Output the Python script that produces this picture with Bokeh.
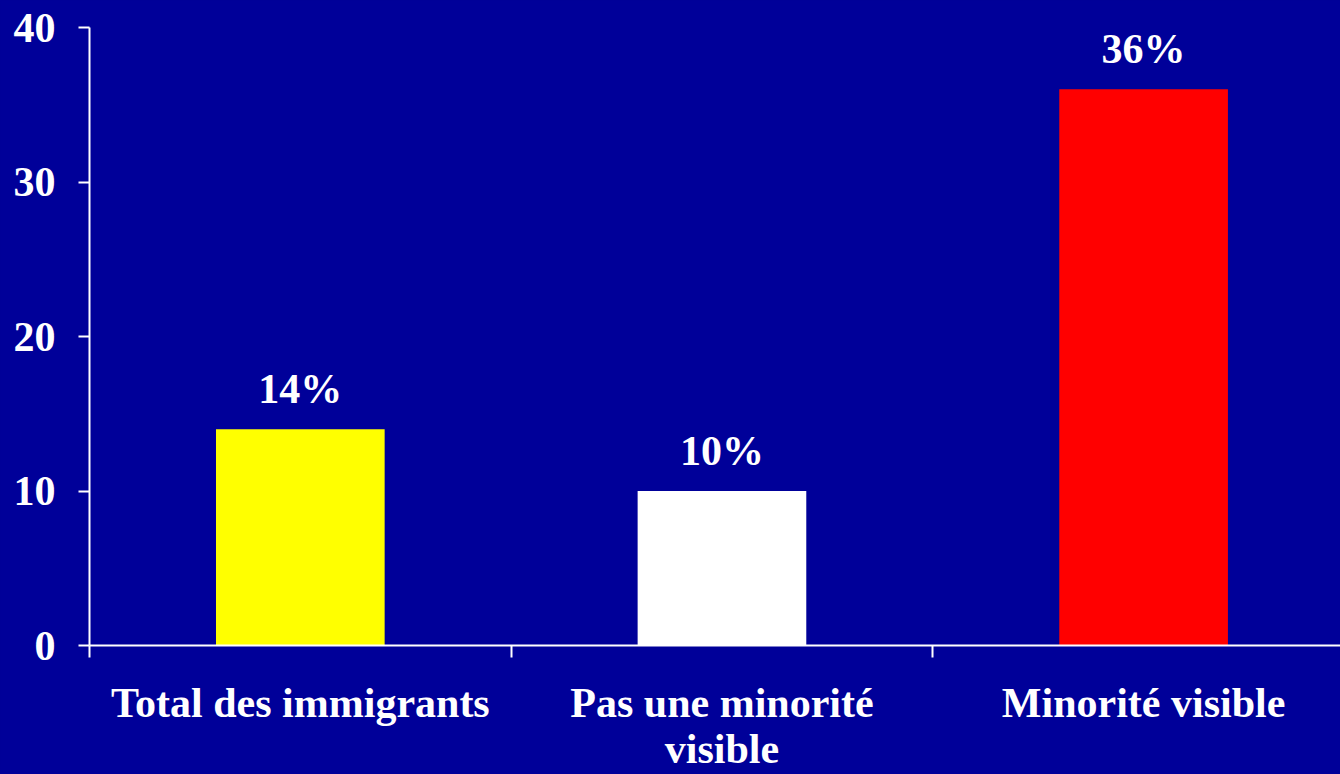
from bokeh.plotting import figure
from bokeh.models import Range1d, FixedTicker, ColumnDataSource
from bokeh.core.properties import value
from bokeh.embed import file_html
from bokeh.resources import INLINE

# ---- data ----
categories = ["Total des immigrants", "Pas une minorité\nvisible", "Minorité visible"]
values = [14, 10, 36]
bar_labels = ["14%", "10%", "36%"]
bar_colors = ["#FFFF00", "#FFFFFF", "#FF0000"]
y_ticks = [0, 10, 20, 30, 40]

BG = "#000099"
FONT = "Liberation Serif"
FS = "42px"

xs = [i + 0.5 for i in range(len(categories))]
src = ColumnDataSource(dict(x=xs, top=values, color=bar_colors, label=bar_labels))

p = figure(width=1340, height=774, output_backend="svg", toolbar_location=None,
           x_range=Range1d(0, 2.967), y_range=Range1d(0, 40),
           min_border_left=89, min_border_right=0, min_border_top=27, min_border_bottom=129)

p.background_fill_color = BG
p.border_fill_color = BG
p.outline_line_color = None
p.xgrid.visible = False
p.ygrid.visible = False

p.vbar(x="x", top="top", bottom=0, width=0.4, fill_color="color", line_color=None, source=src)
p.text(x="x", y="top", text="label", source=src, y_offset=-40,
       text_align="center", text_baseline="alphabetic", text_color="white",
       text_font=value(FONT), text_font_style="bold", text_font_size=FS)

# y axis
ya = p.yaxis[0]
ya.ticker = FixedTicker(ticks=y_ticks, minor_ticks=[])
ya.axis_line_color = "white"
ya.axis_line_width = 2
ya.major_tick_line_color = "white"
ya.major_tick_line_width = 2
ya.major_tick_out = 11
ya.major_tick_in = 0
ya.minor_tick_line_color = None
ya.major_label_standoff = 23
ya.major_label_text_color = "white"
ya.major_label_text_font = FONT
ya.major_label_text_font_style = "bold"
ya.major_label_text_font_size = FS

# x axis
xa = p.xaxis[0]
xa.ticker = FixedTicker(ticks=xs, minor_ticks=list(range(len(categories) + 1)))
xa.major_label_overrides = {x: c for x, c in zip(xs, categories)}
xa.axis_line_color = "white"
xa.axis_line_width = 2
xa.major_tick_line_color = None
xa.major_tick_out = 0
xa.major_tick_in = 0
xa.minor_tick_line_color = "white"
xa.minor_tick_line_width = 2
xa.minor_tick_out = 12
xa.minor_tick_in = 0
xa.major_label_standoff = 22
xa.major_label_text_color = "white"
xa.major_label_text_font = FONT
xa.major_label_text_font_style = "bold"
xa.major_label_text_font_size = FS
xa.major_label_text_line_height = 1.0

html = file_html(p, INLINE)
html = html.replace("</head>", "<style>html, body { background-color: #000099; }</style></head>", 1)
open("out.html", "w").write(html)
